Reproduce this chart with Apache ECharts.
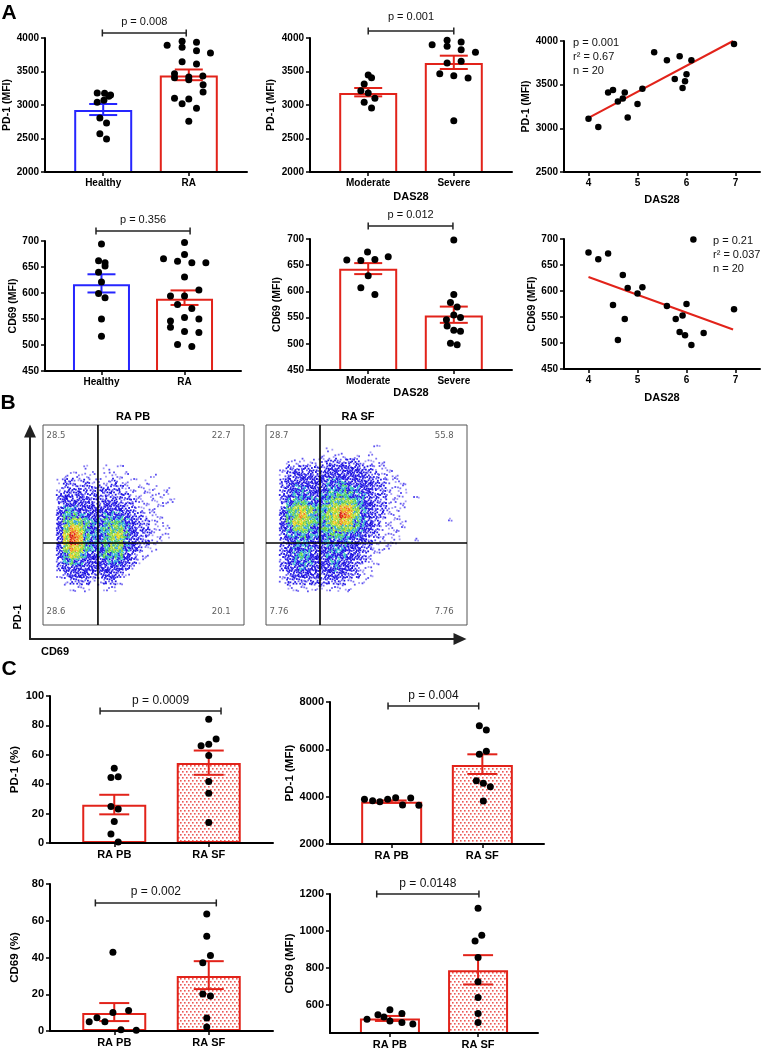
<!DOCTYPE html>
<html><head><meta charset="utf-8">
<script src="https://cdn.jsdelivr.net/npm/echarts@6/dist/echarts.min.js"></script>
<style>html,body{margin:0;padding:0;background:#fff}#c{width:762px;height:1050px}</style>
</head><body><div id="c"></div>
<script>
// ================= DATA =================
const groupsHR = ['Healthy', 'RA'];
const groupsDAS = ['Moderate', 'Severe'];
const groupsSite = ['RA PB', 'RA SF'];

// A1: PD-1 (MFI) Healthy vs RA
const pd1HRMeans = [2925, 3440];
const pd1HRSem = [[2850, 3015], [3370, 3530]];
const pd1Healthy = [3180, 3175, 3150, 3130, 3040, 3070, 2806, 2731, 2572, 2493];
const pd1HealthyJit = [-0.07, 0.016, 0.086, 0.066, -0.07, 0.008, -0.039, 0.039, -0.039, 0.039];
const pd1RA = [3891, 3950, 3935, 3861, 3811, 3776, 3647, 3612, 3468, 3408, 3418, 3433, 3303, 3194, 3100, 3090, 3020, 2950, 2756, 3378];
const pd1RAJit = [-0.253, -0.078, 0.09, -0.078, 0.09, 0.253, -0.078, 0.09, -0.167, -0.167, 0, 0.164, 0.167, 0.167, -0.167, 0, -0.078, 0.09, 0, 0];
const pA1 = 'p = 0.008';

// A2: PD-1 (MFI) by DAS28
const pd1DASMeans = [3180, 3627];
const pd1DASSem = [[3129, 3254], [3537, 3736]];
const pd1Moderate = [3448, 3408, 3313, 3214, 3179, 3100, 3040, 2955];
const pd1ModerateJit = [0, 0.039, -0.047, -0.086, 0, 0.078, -0.047, 0.039];
const pd1Severe = [3900, 3965, 3940, 3876, 3826, 3786, 3627, 3652, 3468, 3438, 3403, 2766];
const pd1SevereJit = [-0.253, -0.078, 0.086, -0.078, 0.086, 0.253, -0.078, 0.086, -0.164, 0, 0.167, 0];
const pA2 = 'p = 0.001';

// A3: PD-1 vs DAS28
const pd1VsDas = [[4.0, 3109], [4.2, 3014], [4.4, 3410], [4.5, 3440], [4.6, 3307], [4.7, 3341], [4.74, 3410], [4.8, 3124], [5.0, 3280], [5.1, 3452], [5.34, 3871], [5.6, 3779], [5.76, 3566], [5.86, 3825], [5.92, 3463], [5.97, 3539], [6.0, 3619], [6.1, 3779], [6.14, 4008], [6.97, 3966]];
const pd1Fit = [[4.0, 3120], [6.95, 4000]];
const pd1Stats = ['p = 0.001', 'r² = 0.67', 'n = 20'];

// A4: CD69 (MFI) Healthy vs RA
const cd69HRMeans = [617, 589];
const cd69HRSem = [[601, 636], [577, 605]];
const cd69Healthy = [694, 662, 658, 652, 640, 621, 599, 591, 550, 517];
const cd69HealthyJit = [0, -0.035, 0.043, 0.043, -0.035, 0, -0.035, 0.043, 0, 0];
const cd69RA = [697, 666, 674, 661, 658, 658, 631, 606, 594, 594, 578, 570, 553, 546, 550, 534, 526, 524, 501, 497];
const cd69RAJit = [0, -0.253, 0, -0.084, 0.088, 0.257, 0, 0.173, -0.169, 0, -0.084, 0.088, 0, -0.169, 0.173, -0.169, 0, 0.173, -0.084, 0.088];
const pA4 = 'p = 0.356';

// A5: CD69 (MFI) by DAS28
const cd69DASMeans = [643, 554];
const cd69DASSem = [[633, 654], [540, 571]];
const cd69Moderate = [660, 659, 675, 661, 666, 630, 607, 594];
const cd69ModerateJit = [-0.25, -0.086, -0.008, 0.078, 0.234, 0, -0.086, 0.078];
const cd69Severe = [698, 594, 579, 570, 555, 546, 550, 534, 526, 524, 501, 498];
const cd69SevereJit = [0, 0, -0.039, 0.039, 0, -0.086, 0.078, -0.078, 0, 0.078, -0.039, 0.039];
const pA5 = 'p = 0.012';

// A6: CD69 vs DAS28
const cd69VsDas = [[4.0, 674], [4.2, 661], [4.4, 672], [4.7, 631], [4.5, 573], [4.8, 606], [5.1, 607], [5.0, 595], [4.74, 546], [4.6, 506], [5.6, 571], [5.78, 546], [5.92, 553], [6.0, 575], [5.86, 521], [5.97, 515], [6.1, 496], [6.35, 519], [6.14, 699], [6.97, 565]];
const cd69Fit = [[4.0, 627], [6.95, 526]];
const cd69Stats = ['p = 0.21', 'r² = 0.037', 'n = 20'];

// B: flow cytometry density (level 0-9 per cell, rows top->bottom, 30x30 cells)
const flowPB = ['', '', '', '', '', '',
  '000000100101',
  '00011111011110001',
  '0012212111211101',
  '0012222222221111101',
  '0023232222222111111',
  '00233332233222111111',
  '002443333333221111',
  '003554433444322111',
  '003566544555432211',
  '0036875445664322111',
  '0037985445675322111',
  '003798544566432211',
  '00368754456643211',
  '0035764345553211',
  '002454333444321',
  '00233333333321',
  '0012333223321',
  '000122211221',
  '00001110011'];
const flowSF = ['', '', '',
  '00000000010000001',
  '0000000010110101',
  '000111111222221111',
  '0012222223333322111',
  '00123332333333322111',
  '002333333444333322111',
  '002344333445443322111',
  '00234443455554432211101',
  '002455444566654322111',
  '002567655678864322111',
  '00356865567986432211',
  '0035776556787543211110000001',
  '003466545566654321111',
  '00244544455544322111',
  '00234443444443321111001',
  '0023444334443322111',
  '00234543344433211',
  '00234443344332211',
  '0023343333433211',
  '0012333323332211',
  '001222222222111',
  '0001111111111'];
const quadPB = ['28.5', '22.7', '28.6', '20.1'];
const quadSF = ['28.7', '55.8', '7.76', '7.76'];
const gatePB = [8.2, 17.7];
const gateSF = [8.06, 17.7];

// C1: PD-1 (%)
const pd1PctMeans = [26, 54.5];
const pd1PctSem = [[19.5, 32.8], [46.4, 62.9]];
const pd1PctPB = [50.9, 44.6, 45, 24.9, 23.1, 14.7, 6.1, 0.7];
const pd1PctPBJit = [0, -0.035, 0.042, -0.035, 0.042, 0, -0.035, 0.042];
const pd1PctSF = [84.2, 70.8, 66.1, 67.2, 59.5, 41.9, 33.9, 14];
const pd1PctSFJit = [0, 0.078, -0.081, 0, 0, 0, 0, 0];
const pC1 = 'p = 0.0009';

// C2: PD-1 (MFI)
const pd1MfiMeans = [3788, 5338];
const pd1MfiSem = [[3740, 3840], [4958, 5790]];
const pd1MfiPB = [3889, 3830, 3788, 3889, 3956, 3648, 3944, 3634];
const pd1MfiPBJit = [-0.3, -0.21, -0.13, -0.044, 0.044, 0.12, 0.21, 0.3];
const pd1MfiSF = [7000, 6817, 5917, 5790, 4676, 4563, 4422, 3817];
const pd1MfiSFJit = [-0.033, 0.044, 0.044, -0.033, -0.066, 0.011, 0.088, 0.011];
const pC2 = 'p = 0.004';

// C3: CD69 (%)
const cd69PctMeans = [9.8, 29.9];
const cd69PctSem = [[5.4, 15.2], [22.8, 38]];
const cd69PctPB = [5.1, 7.2, 5.1, 10.1, 11.2, 0.7, 0.4, 42.9];
const cd69PctPBJit = [-0.265, -0.183, -0.099, -0.014, 0.152, 0.071, 0.233, -0.014];
const cd69PctSF = [63.7, 51.6, 41.1, 37.1, 20.1, 19, 7.1, 2.2];
const cd69PctSFJit = [-0.021, -0.021, 0.018, -0.063, -0.063, 0.018, -0.021, -0.021];
const pC3 = 'p = 0.002';

// C4: CD69 (MFI)
const cd69MfiMeans = [528, 788];
const cd69MfiSem = [[515, 542], [712, 870]];
const cd69MfiPB = [524, 548, 536, 575, 515, 555, 506, 499];
const cd69MfiPBJit = [-0.26, -0.136, -0.068, 0, 0, 0.136, 0.136, 0.26];
const cd69MfiSF = [1123, 978, 946, 858, 726, 641, 555, 506];
const cd69MfiSFJit = [0, 0.042, -0.034, 0, 0, 0, 0, 0];
const pC4 = 'p = 0.0148';
const cd69MfiTicks = [600, 800, 1000, 1200];

// ================= STYLE / LAYOUT =================
const FONT = '"Liberation Sans", Arial, sans-serif';
const RED = '#e2231a', BLUE = '#2626ff';
// dot rendering style for flow density cells
const SUBPTS = [[0.15, 0.2], [0.6, 0.1], [0.35, 0.55], [0.85, 0.45], [0.1, 0.8], [0.55, 0.8], [0.8, 0.9], [0.3, 0.3],
  [0.7, 0.35], [0.45, 0.05], [0.05, 0.5], [0.9, 0.7], [0.25, 0.95], [0.65, 0.6], [0.4, 0.75], [0.95, 0.15]];
const LEVEL_COUNT = [0, 3, 7, 11, 14, 16, 16, 16, 16, 16];
const LEVEL_PAL = [[],
  ['#7d72f2', '#a59df6', '#5a4ff0'],
  ['#2a1fe8', '#6a60f2', '#1c12e0'],
  ['#1c12e0', '#2a1fe8', '#3a30ea', '#1508d8'],
  ['#2418e8', '#2fa4e0', '#2418e8', '#3ec8b8', '#1c12e0'],
  ['#35b8c8', '#44d070', '#2418e8', '#66d040', '#2fa4e0'],
  ['#80d040', '#c0e030', '#40c080', '#a0d838', '#2fa4e0'],
  ['#e0e020', '#b0d830', '#f0c020', '#70d050'],
  ['#f0a020', '#e8d020', '#f07020', '#c8dc30'],
  ['#e02010', '#f06020', '#d01010', '#f0a020']];

function makePattern() {
  const c = document.createElement('canvas'); c.width = 4; c.height = 6;
  const g = c.getContext('2d');
  g.fillStyle = '#ffffff'; g.fillRect(0, 0, 4, 6);
  g.fillStyle = 'rgba(232,60,55,0.85)';
  g.fillRect(0, 0, 1.6, 1.6); g.fillRect(2, 3, 1.6, 1.6);
  return c;
}
const DOTFILL = { image: makePattern(), repeat: 'repeat' };

const option = { animation: false, backgroundColor: '#fff', grid: [], xAxis: [], yAxis: [], series: [], graphic: [] };

function txt(t, x, y, size, weight, align, rot, color, family) {
  option.graphic.push({ type: 'text', x: x, y: y, rotation: rot || 0, z: 100,
    style: { text: t, fill: color || '#000', font: (weight || 'normal') + ' ' + size + 'px ' + (family || FONT),
      align: align || 'center', verticalAlign: 'middle', textAlign: align || 'center', textVerticalAlign: 'middle' } });
}

function yAxisCfg(s) {
  return { type: 'value', min: s.ymin, max: s.ymax, interval: s.yint, z: 5, splitLine: { show: false },
    axisLine: { show: true, onZero: false, lineStyle: { color: '#000', width: 2 } },
    axisTick: { show: true, length: 4, lineStyle: { color: '#000', width: 1.5 }, customValues: s.yTicks },
    axisLabel: { color: '#000', fontWeight: 'bold', fontSize: s.fs, fontFamily: FONT, margin: 6, customValues: s.yTicks, formatter: v => String(v) },
    name: s.yName, nameLocation: 'middle', nameRotate: 90, nameGap: s.yGap,
    nameTextStyle: { color: '#000', fontWeight: 'bold', fontSize: s.fs + 0.5, fontFamily: FONT } };
}
function xNameCfg(s) {
  return { name: s.xName || '', nameLocation: 'middle', nameGap: s.xGap || 20,
    nameTextStyle: { color: '#000', fontWeight: 'bold', fontSize: 11, fontFamily: FONT } };
}

function barChart(s) {
  const gi = option.grid.push({ left: s.rect[0], top: s.rect[1], width: s.rect[2], height: s.rect[3] }) - 1;
  option.xAxis.push(Object.assign({ type: 'value', gridIndex: gi, min: 0.32, max: 2.68, z: 5, splitLine: { show: false },
    axisLine: { show: true, onZero: false, lineStyle: { color: '#000', width: 2 } },
    axisTick: { show: true, customValues: [1, 2], length: 4, lineStyle: { color: '#000', width: 1.5 } },
    axisLabel: { customValues: [1, 2], formatter: v => s.cats[Math.round(v) - 1], color: '#000', fontWeight: 'bold', fontSize: s.fs, fontFamily: FONT, margin: 6 } }, xNameCfg(s)));
  option.yAxis.push(Object.assign({ gridIndex: gi }, yAxisCfg(s)));
  const xi = option.xAxis.length - 1, yi = option.yAxis.length - 1;
  option.series.push({ type: 'bar', xAxisIndex: xi, yAxisIndex: yi, barWidth: s.barW, silent: true, z: 2,
    data: s.means.map((m, i) => ({ value: [i + 1, m], itemStyle: { color: s.fills[i], borderColor: s.colors[i], borderWidth: 2, opacity: 1 } })) });
  option.series.push({ type: 'custom', xAxisIndex: xi, yAxisIndex: yi, silent: true, clip: false, z: 3,
    data: s.sem.map((e, i) => [i + 1, e[0], e[1]]),
    renderItem: (p, api) => {
      const x = api.value(0), lo = api.coord([x, api.value(1)]), hi = api.coord([x, api.value(2)]);
      const w = s.capW / 2, c = s.colors[p.dataIndex], st = { stroke: c, lineWidth: 2 };
      return { type: 'group', children: [
        { type: 'line', shape: { x1: lo[0], y1: lo[1], x2: hi[0], y2: hi[1] }, style: st },
        { type: 'line', shape: { x1: lo[0] - w, y1: lo[1], x2: lo[0] + w, y2: lo[1] }, style: st },
        { type: 'line', shape: { x1: hi[0] - w, y1: hi[1], x2: hi[0] + w, y2: hi[1] }, style: st }] };
    } });
  s.dots.forEach((arr, g) => option.series.push({ type: 'scatter', xAxisIndex: xi, yAxisIndex: yi, symbolSize: s.dotSize, silent: true, z: 4,
    itemStyle: { color: '#000', opacity: 1 }, data: arr.map((v, k) => [g + 1 + s.jit[g][k], v]) }));
  option.series.push({ type: 'custom', xAxisIndex: xi, yAxisIndex: yi, silent: true, clip: false, z: 4,
    data: [[s.br[0], s.br[1], s.br[2]]],
    renderItem: (p, api) => {
      const a = api.coord([api.value(0), api.value(2)]), b = api.coord([api.value(1), api.value(2)]);
      const st = { stroke: '#222', lineWidth: 1.5 };
      return { type: 'group', children: [
        { type: 'line', shape: { x1: a[0], y1: a[1], x2: b[0], y2: b[1] }, style: st },
        { type: 'line', shape: { x1: a[0], y1: a[1] - 3.5, x2: a[0], y2: a[1] + 3.5 }, style: st },
        { type: 'line', shape: { x1: b[0], y1: b[1] - 3.5, x2: b[0], y2: b[1] + 3.5 }, style: st },
        { type: 'text', x: (a[0] + b[0]) / 2, y: a[1] - s.brDy,
          style: { text: s.p, fill: '#111', font: s.pfs + 'px ' + FONT, align: 'center', verticalAlign: 'middle', textAlign: 'center', textVerticalAlign: 'middle' } }] };
    } });
}

function scatterChart(s) {
  const gi = option.grid.push({ left: s.rect[0], top: s.rect[1], width: s.rect[2], height: s.rect[3] }) - 1;
  option.xAxis.push(Object.assign({ type: 'value', gridIndex: gi, min: 3.5, max: 7.5, z: 5, splitLine: { show: false },
    axisLine: { show: true, onZero: false, lineStyle: { color: '#000', width: 2 } },
    axisTick: { show: true, customValues: [4, 5, 6, 7], length: 4, lineStyle: { color: '#000', width: 1.5 } },
    axisLabel: { customValues: [4, 5, 6, 7], color: '#000', fontWeight: 'bold', fontSize: s.fs, fontFamily: FONT, margin: 6 } }, xNameCfg(s)));
  option.yAxis.push(Object.assign({ gridIndex: gi }, yAxisCfg(s)));
  const xi = option.xAxis.length - 1, yi = option.yAxis.length - 1;
  option.series.push({ type: 'line', xAxisIndex: xi, yAxisIndex: yi, data: s.fit, symbol: 'none', silent: true, z: 3,
    lineStyle: { color: RED, width: 2 } });
  option.series.push({ type: 'scatter', xAxisIndex: xi, yAxisIndex: yi, data: s.pts, symbolSize: 6.5, silent: true, z: 4,
    itemStyle: { color: '#000', opacity: 1 } });
  s.stats.forEach((t, i) => txt(t, s.statPos[0], s.statPos[1] + i * 14, 11, 'normal', 'left', 0, '#111'));
}

function flowPlot(s) {
  const gi = option.grid.push({ left: s.rect[0], top: s.rect[1], width: s.rect[2], height: s.rect[3], show: true,
    borderColor: '#555', borderWidth: 1, backgroundColor: '#fff' }) - 1;
  const cats = Array.from({ length: 30 }, (_, i) => String(i));
  option.xAxis.push({ type: 'category', gridIndex: gi, data: cats, show: false });
  const xc = option.xAxis.length - 1;
  option.xAxis.push({ type: 'value', gridIndex: gi, min: 0, max: 30, show: false });
  const xv = option.xAxis.length - 1;
  option.yAxis.push({ type: 'category', gridIndex: gi, data: cats, inverse: true, show: false });
  const yc = option.yAxis.length - 1;
  option.yAxis.push({ type: 'value', gridIndex: gi, min: 0, max: 30, inverse: true, show: false });
  const yv = option.yAxis.length - 1;
  const data = [];
  s.rows.forEach((row, r) => { for (let c = 0; c < row.length; c++) { const v = +row[c]; if (v > 0) data.push([c, r, v]); } });
  option.series.push({ type: 'custom', xAxisIndex: xc, yAxisIndex: yc, data: data, silent: true, z: 2,
    renderItem: (p, api) => {
      const c = api.value(0), r = api.value(1), lv = api.value(2);
      const ctr = api.coord([c, r]), sz = api.size([1, 1]);
      const x0 = ctr[0] - sz[0] / 2, y0 = ctr[1] - sz[1] / 2;
      const pal = LEVEL_PAL[lv], kids = [];
      for (let k = 0; k < LEVEL_COUNT[lv]; k++) {
        const sp = SUBPTS[(k + c * 3 + r * 5) % SUBPTS.length];
        kids.push({ type: 'rect', shape: { x: x0 + sp[0] * sz[0] - 0.9, y: y0 + sp[1] * sz[1] - 0.9, width: 1.8, height: 1.8 },
          style: { fill: pal[(k + c + r) % pal.length] } });
      }
      return { type: 'group', children: kids };
    } });
  option.series.push({ type: 'line', xAxisIndex: xv, yAxisIndex: yv, symbol: 'none', silent: true, z: 5,
    lineStyle: { color: '#000', width: 1.6 }, data: [[s.gate[0], 0], [s.gate[0], 30]] });
  option.series.push({ type: 'line', xAxisIndex: xv, yAxisIndex: yv, symbol: 'none', silent: true, z: 5,
    lineStyle: { color: '#000', width: 1.6 }, data: [[0, s.gate[1]], [30, s.gate[1]]] });
  const qpos = [[1.95, 1.65], [26.6, 1.65], [1.95, 28.05], [26.6, 28.05]];
  option.series.push({ type: 'scatter', xAxisIndex: xv, yAxisIndex: yv, symbolSize: 1, silent: true, z: 6,
    itemStyle: { color: 'rgba(0,0,0,0)' },
    label: { show: true, position: 'inside', color: '#333', fontSize: 8.5, fontFamily: '"DejaVu Sans", sans-serif' },
    data: s.quads.map((q, i) => ({ value: qpos[i], label: { formatter: q } })) });
}

// ================= BUILD =================
const barSpecs = [
  { rect: [45, 38, 202, 134], cats: groupsHR, means: pd1HRMeans, sem: pd1HRSem, dots: [pd1Healthy, pd1RA], jit: [pd1HealthyJit, pd1RAJit],
    colors: [BLUE, RED], fills: ['#fff', '#fff'], ymin: 2000, ymax: 4000, yint: 500, yName: 'PD-1 (MFI)', yGap: 30,
    barW: 58, capW: 28, fs: 10, dotSize: 7, br: [0.99, 1.97, 4075], brDy: 11, p: pA1, pfs: 11 },
  { rect: [310, 38, 202, 134], cats: groupsDAS, means: pd1DASMeans, sem: pd1DASSem, dots: [pd1Moderate, pd1Severe], jit: [pd1ModerateJit, pd1SevereJit],
    colors: [RED, RED], fills: ['#fff', '#fff'], ymin: 2000, ymax: 4000, yint: 500, yName: 'PD-1 (MFI)', yGap: 33,
    xName: 'DAS28', xGap: 19, barW: 58, capW: 28, fs: 10, dotSize: 7, br: [1, 2, 4104], brDy: 14, p: pA2, pfs: 11 },
  { rect: [45, 241, 196, 130], cats: groupsHR, means: cd69HRMeans, sem: cd69HRSem, dots: [cd69Healthy, cd69RA], jit: [cd69HealthyJit, cd69RAJit],
    colors: [BLUE, RED], fills: ['#fff', '#fff'], ymin: 450, ymax: 700, yint: 50, yName: 'CD69 (MFI)', yGap: 26,
    barW: 57, capW: 28, fs: 10, dotSize: 7, br: [0.934, 2.067, 719], brDy: 11, p: pA4, pfs: 11 },
  { rect: [310, 239, 202, 131], cats: groupsDAS, means: cd69DASMeans, sem: cd69DASSem, dots: [cd69Moderate, cd69Severe], jit: [cd69ModerateJit, cd69SevereJit],
    colors: [RED, RED], fills: ['#fff', '#fff'], ymin: 450, ymax: 700, yint: 50, yName: 'CD69 (MFI)', yGap: 27,
    xName: 'DAS28', xGap: 17, barW: 58, capW: 28, fs: 10, dotSize: 7, br: [1, 1.99, 725], brDy: 11, p: pA5, pfs: 11 },
  { rect: [50, 696, 223, 147], cats: groupsSite, means: pd1PctMeans, sem: pd1PctSem, dots: [pd1PctPB, pd1PctSF], jit: [pd1PctPBJit, pd1PctSFJit],
    colors: [RED, RED], fills: ['#fff', DOTFILL], ymin: 0, ymax: 100, yint: 20, yName: 'PD-1 (%)', yGap: 29,
    barW: 64, capW: 30, fs: 11, dotSize: 7, br: [0.85, 2.13, 89.8], brDy: 10, p: pC1, pfs: 12 },
  { rect: [330, 702, 214, 142], cats: groupsSite, means: pd1MfiMeans, sem: pd1MfiSem, dots: [pd1MfiPB, pd1MfiSF], jit: [pd1MfiPBJit, pd1MfiSFJit],
    colors: [RED, RED], fills: ['#fff', DOTFILL], ymin: 2000, ymax: 8000, yint: 2000, yName: 'PD-1 (MFI)', yGap: 33,
    barW: 61, capW: 30, fs: 11, dotSize: 7, br: [0.96, 1.96, 7831], brDy: 10, p: pC2, pfs: 12 },
  { rect: [50, 884, 223, 147], cats: groupsSite, means: cd69PctMeans, sem: cd69PctSem, dots: [cd69PctPB, cd69PctSF], jit: [cd69PctPBJit, cd69PctSFJit],
    colors: [RED, RED], fills: ['#fff', DOTFILL], ymin: 0, ymax: 80, yint: 20, yName: 'CD69 (%)', yGap: 29,
    barW: 64, capW: 30, fs: 11, dotSize: 7, br: [0.80, 2.08, 69.7], brDy: 11, p: pC3, pfs: 12 },
  { rect: [330, 894, 208, 140], cats: groupsSite, means: cd69MfiMeans, sem: cd69MfiSem, dots: [cd69MfiPB, cd69MfiSF], jit: [cd69MfiPBJit, cd69MfiSFJit],
    colors: [RED, RED], fills: ['#fff', DOTFILL], ymin: 450, ymax: 1200, yTicks: cd69MfiTicks, yName: 'CD69 (MFI)', yGap: 33,
    barW: 60, capW: 30, fs: 11, dotSize: 7, br: [0.85, 2.01, 1200], brDy: 10, p: pC4, pfs: 12 }
];
barSpecs.forEach(barChart);

scatterChart({ rect: [564, 41, 196, 131], pts: pd1VsDas, fit: pd1Fit, stats: pd1Stats, statPos: [573, 43],
  ymin: 2500, ymax: 4000, yint: 500, yName: 'PD-1 (MFI)', yGap: 32, xName: 'DAS28', xGap: 22, fs: 10 });
scatterChart({ rect: [564, 239, 196, 130], pts: cd69VsDas, fit: cd69Fit, stats: cd69Stats, statPos: [713, 241],
  ymin: 450, ymax: 700, yint: 50, yName: 'CD69 (MFI)', yGap: 26, xName: 'DAS28', xGap: 23, fs: 10 });

// Panel B
flowPlot({ rect: [43, 425, 201, 200], rows: flowPB, gate: gatePB, quads: quadPB });
flowPlot({ rect: [266, 425, 201, 200], rows: flowSF, gate: gateSF, quads: quadSF });

// big arrow axes
{
  const gi = option.grid.push({ left: 30, top: 431, width: 430, height: 208 }) - 1;
  const ax = { type: 'value', gridIndex: gi, min: 0, max: 1, splitLine: { show: false }, axisTick: { show: false }, axisLabel: { show: false },
    axisLine: { show: true, onZero: false, symbol: ['none', 'triangle'], symbolSize: [12, 13], lineStyle: { color: '#222', width: 2 } } };
  option.xAxis.push(Object.assign({}, ax));
  option.yAxis.push(Object.assign({}, ax));
}

// texts
txt('A', 9, 13, 21, 'bold', 'center');
txt('B', 8, 403, 21, 'bold', 'center');
txt('C', 9, 669, 21, 'bold', 'center');
txt('RA PB', 133, 417, 11, 'bold', 'center');
txt('RA SF', 358, 417, 11, 'bold', 'center');
txt('PD-1', 18, 617, 11, 'bold', 'center', Math.PI / 2);
txt('CD69', 55, 652, 11, 'bold', 'center');

const chart = echarts.init(document.getElementById('c'), null, { renderer: 'canvas' });
chart.setOption(option);
</script>
</body></html>
